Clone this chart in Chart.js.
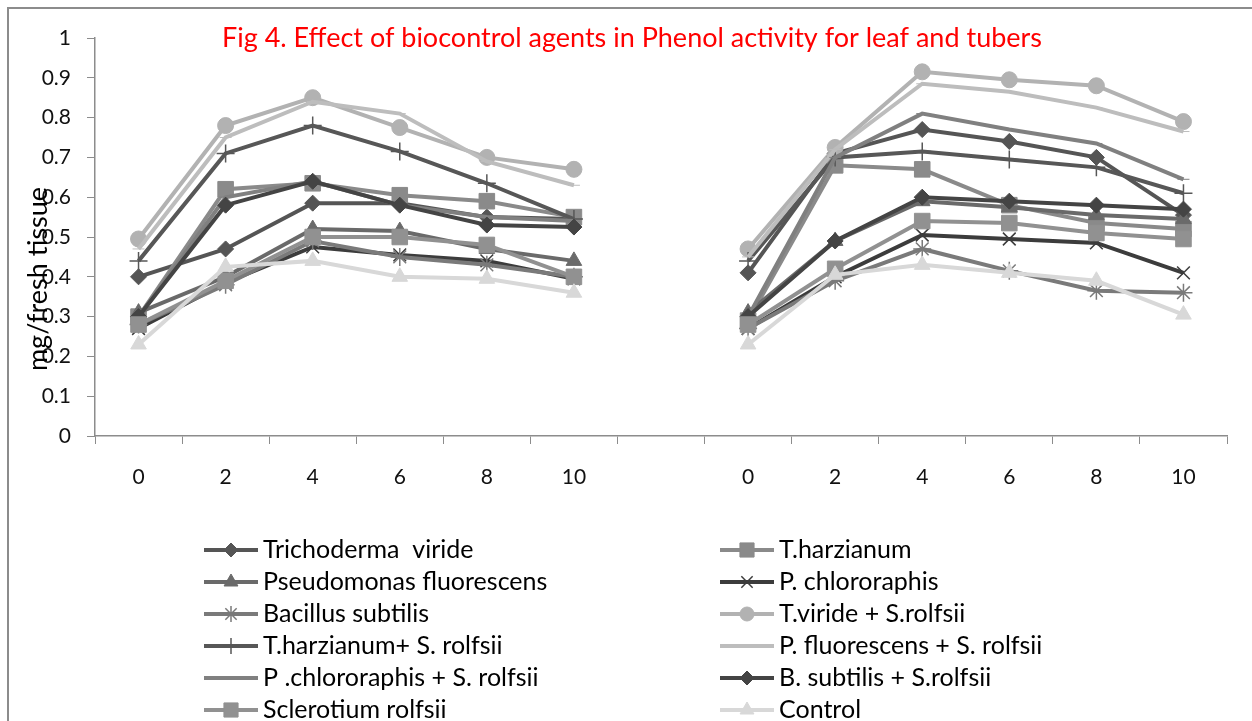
<!DOCTYPE html>
<html>
<head>
<meta charset="utf-8">
<script src="https://cdn.jsdelivr.net/npm/chart.js@4.4.1/dist/chart.umd.min.js"></script>
<style>
html, body { margin: 0; padding: 0; background: #fff; }
#wrap { width: 1252px; height: 721px; position: relative; }
</style>
</head>
<body>
<div id="wrap"><canvas id="fenol" width="1252" height="721"></canvas></div>
<script>
// dias: hoja (0-10), hueco, tuberculo (0-10)
var dias = ["0", "2", "4", "6", "8", "10", "", "0", "2", "4", "6", "8", "10"];

var titulo = "Fig 4. Effect of biocontrol agents in Phenol activity for leaf and tubers";
var ejeY = "mg/fresh tissue";

var nombres = [
    "Trichoderma  viride",
    "T.harzianum",
    "Pseudomonas fluorescens",
    "P. chlororaphis",
    "Bacillus subtilis",
    "T.viride + S.rolfsii",
    "T.harzianum+ S. rolfsii",
    "P. fluorescens + S. rolfsii",
    "P .chlororaphis + S. rolfsii",
    "B. subtilis + S.rolfsii",
    "Sclerotium rolfsii",
    "Control"
];

var tViride      = [0.40, 0.47, 0.585, 0.585, 0.55, 0.545, null, 0.41, 0.71, 0.77, 0.74, 0.70, 0.555];
var tHarzianum   = [0.30, 0.62, 0.635, 0.605, 0.59, 0.55, null, 0.29, 0.68, 0.67, 0.58, 0.535, 0.52];
var pFluor       = [0.31, 0.40, 0.52, 0.515, 0.47, 0.44, null, 0.31, 0.49, 0.59, 0.575, 0.555, 0.545];
var pChlor       = [0.27, 0.385, 0.475, 0.455, 0.44, 0.395, null, 0.27, 0.40, 0.505, 0.495, 0.485, 0.41];
var bSubtilis    = [0.28, 0.38, 0.49, 0.45, 0.43, 0.40, null, 0.27, 0.39, 0.47, 0.415, 0.365, 0.36];
var tViridePat   = [0.495, 0.78, 0.85, 0.775, 0.70, 0.67, null, 0.47, 0.725, 0.915, 0.895, 0.88, 0.79];
var tHarzPat     = [0.44, 0.71, 0.78, 0.715, 0.635, 0.545, null, 0.44, 0.70, 0.715, 0.695, 0.675, 0.61];
var pFluorPat    = [0.47, 0.75, 0.84, 0.81, 0.69, 0.63, null, 0.45, 0.72, 0.885, 0.865, 0.825, 0.765];
var pChlorPat    = [0.30, 0.60, 0.64, 0.58, 0.55, 0.54, null, 0.30, 0.70, 0.81, 0.77, 0.735, 0.645];
var bSubtilisPat = [0.30, 0.58, 0.64, 0.58, 0.53, 0.525, null, 0.30, 0.49, 0.60, 0.59, 0.58, 0.57];
var sRolfsii     = [0.28, 0.39, 0.50, 0.50, 0.48, 0.40, null, 0.28, 0.42, 0.54, 0.535, 0.51, 0.495];
var control      = [0.23, 0.425, 0.44, 0.40, 0.395, 0.36, null, 0.23, 0.405, 0.43, 0.41, 0.39, 0.305];

var valores = [tViride, tHarzianum, pFluor, pChlor, bSubtilis, tViridePat,
               tHarzPat, pFluorPat, pChlorPat, bSubtilisPat, sRolfsii, control];

var colores = ["#555555", "#8a8a8a", "#6a6a6a", "#3c3c3c", "#7a7a7a", "#b2b2b2",
               "#575757", "#bdbdbd", "#808080", "#444444", "#919191", "#d8d8d8"];
var estilos = ["rectRot", "rect", "triangle", "crossRot", "star", "circle",
               "cross", "line", "line", "rectRot", "rect", "triangle"];
var radios  = [8, 11, 9, 9, 9, 8, 9, 6, 6, 8, 11, 9];

var fuente = "Lato, 'Open Sans', sans-serif";

var datasets = [];
valores.forEach((serie, i) => {
    var abierto = estilos[i] == "cross" || estilos[i] == "crossRot" || estilos[i] == "star";
    datasets.push({
        label: nombres[i],
        data: serie,
        borderColor: colores[i],
        backgroundColor: colores[i],
        borderWidth: 4,
        pointStyle: estilos[i],
        pointRadius: radios[i],
        pointBackgroundColor: colores[i],
        pointBorderColor: colores[i],
        pointBorderWidth: abierto ? 1.5 : 1,
        tension: 0,
        spanGaps: false,
        order: valores.length - i,
    });
});

var extras = {
    id: "extras",
    beforeDraw(chart) {
        var c = chart.ctx;
        c.save();
        c.fillStyle = "#ffffff";
        c.fillRect(0, 0, chart.width, chart.height);
        c.restore();
    },
    afterDraw(chart) {
        var c = chart.ctx;
        c.save();
        // marco exterior
        c.strokeStyle = "#8c8c8c";
        c.lineWidth = 2;
        c.strokeRect(8, 8, 1300, 800);

        // titulo
        c.fillStyle = "#ff0000";
        c.font = "27px " + fuente;
        c.textAlign = "center";
        c.textBaseline = "middle";
        c.fillText(titulo, 632, 38);

        // titulo eje y (encima de las etiquetas, como en el original)
        c.save();
        c.translate(38, 279);
        c.rotate(-Math.PI / 2);
        c.fillStyle = "#000000";
        c.font = "27px " + fuente;
        c.fillText(ejeY, 0, 0);
        c.restore();

        // leyenda en dos columnas
        var xs = [204, 720];
        c.font = "25px " + fuente;
        c.textAlign = "left";
        c.textBaseline = "middle";
        nombres.forEach((nombre, i) => {
            var col = i % 2;
            var fila = Math.floor(i / 2);
            var x = xs[col];
            var y = 550 + fila * 32;
            c.strokeStyle = colores[i];
            c.fillStyle = colores[i];
            c.lineWidth = 4;
            c.beginPath();
            c.moveTo(x, y);
            c.lineTo(x + 54, y);
            c.stroke();
            if (estilos[i] != "line") {
                var abierto = estilos[i] == "cross" || estilos[i] == "crossRot" || estilos[i] == "star";
                c.lineWidth = abierto ? 1.5 : 1;
                Chart.helpers.drawPoint(c, {
                    pointStyle: estilos[i],
                    radius: radios[i] - 1,
                    rotation: 0,
                    borderWidth: c.lineWidth,
                }, x + 27, y);
            }
            c.fillStyle = "#000000";
            c.fillText(nombre, x + 59, y);
        });
        c.restore();
    },
};

var ctx = document.getElementById("fenol");
var myChart = new Chart(ctx, {
    type: "line",
    data: {
        labels: dias,
        datasets: datasets,
    },
    options: {
        responsive: false,
        animation: false,
        devicePixelRatio: 1,
        layout: {
            padding: { top: 38, right: 25, bottom: 225, left: 0 },
        },
        plugins: {
            legend: { display: false },
            title: { display: false },
            tooltip: { enabled: false },
        },
        scales: {
            x: {
                offset: true,
                grid: {
                    offset: true,
                    drawOnChartArea: false,
                    tickLength: 8,
                    color: "#8c8c8c",
                },
                border: { color: "#8c8c8c", width: 1.5 },
                ticks: {
                    padding: 21,
                    color: "#111111",
                    font: { family: fuente, size: 21 },
                    maxRotation: 0,
                    autoSkip: false,
                },
                afterFit(scale) {
                    scale.height = 60;
                },
            },
            y: {
                min: 0,
                max: 1,
                grid: {
                    drawOnChartArea: false,
                    tickLength: 8,
                    color: "#8c8c8c",
                },
                border: { color: "#8c8c8c", width: 1.5 },
                ticks: {
                    stepSize: 0.1,
                    padding: 16,
                    color: "#111111",
                    font: { family: fuente, size: 21 },
                    callback: (v) => String(Number(v.toFixed(1))),
                },
                afterFit(scale) {
                    scale.width = 95;
                },
            },
        },
    },
    plugins: [extras],
});
</script>
</body>
</html>
